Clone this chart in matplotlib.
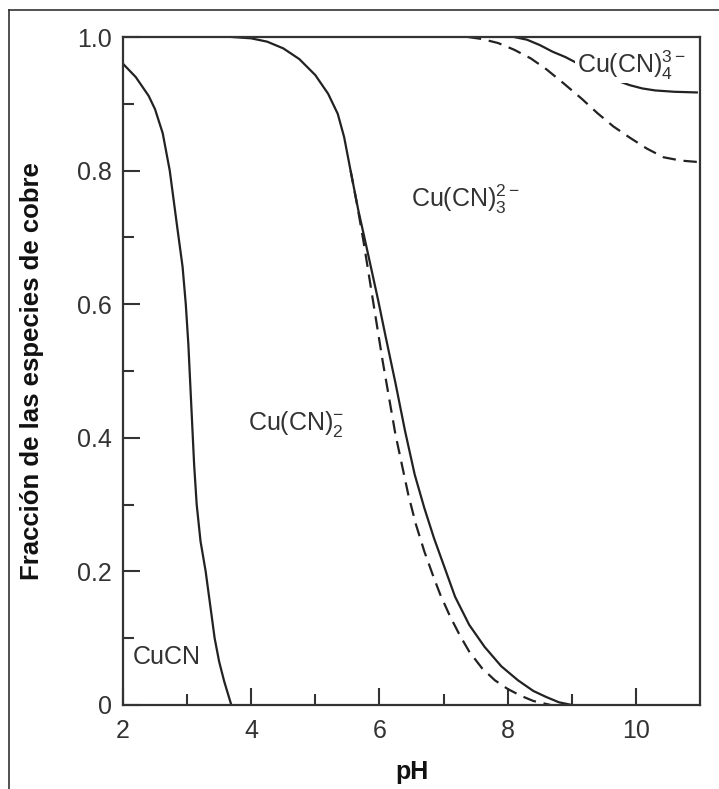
import matplotlib
matplotlib.use("Agg")
import matplotlib.pyplot as plt
from matplotlib.lines import Line2D

plt.rcParams['font.family'] = ['Liberation Sans', 'DejaVu Sans']
plt.rcParams['mathtext.fontset'] = 'custom'
plt.rcParams['mathtext.rm'] = 'Liberation Sans'
plt.rcParams['mathtext.it'] = 'Liberation Sans:italic'
plt.rcParams['mathtext.bf'] = 'Liberation Sans:bold'

# ---- data ----
cucn_ph = [2.0, 2.1, 2.2, 2.3, 2.4, 2.5, 2.62, 2.73, 2.84, 2.93, 2.98, 3.02, 3.05, 3.08,
           3.11, 3.15, 3.21, 3.29, 3.36, 3.43, 3.50, 3.58, 3.69]
cucn_fr = [0.96, 0.95, 0.94, 0.926, 0.912, 0.892, 0.856, 0.80, 0.72, 0.656, 0.60, 0.54,
           0.48, 0.42, 0.36, 0.30, 0.245, 0.20, 0.15, 0.10, 0.065, 0.035, 0.0]

cn2_ph = [3.7, 4.0, 4.25, 4.5, 4.75, 5.0, 5.2, 5.35, 5.45, 5.55, 5.67, 5.8, 5.98, 6.1,
          6.25, 6.4, 6.55, 6.7, 6.85, 7.0, 7.18, 7.4, 7.64, 7.9, 8.16, 8.4, 8.6, 8.8,
          9.0, 9.43]
cn2_fr = [1.0, 0.998, 0.993, 0.983, 0.967, 0.943, 0.915, 0.885, 0.85, 0.80, 0.741, 0.685,
          0.606, 0.55, 0.482, 0.41, 0.345, 0.295, 0.25, 0.21, 0.162, 0.12, 0.087, 0.058,
          0.037, 0.021, 0.012, 0.004, 0.0, -0.003]

cn2d_ph = [5.55, 5.65, 5.75, 5.85, 5.95, 6.05, 6.15, 6.25, 6.35, 6.45, 6.57, 6.7, 6.85,
           6.95, 7.1, 7.25, 7.4, 7.6, 7.8, 8.0, 8.2, 8.4, 8.67]
cn2d_fr = [0.80, 0.75, 0.695, 0.635, 0.575, 0.515, 0.46, 0.405, 0.36, 0.315, 0.27, 0.23,
           0.19, 0.165, 0.133, 0.105, 0.08, 0.055, 0.037, 0.024, 0.014, 0.006, 0.0]

cn3_ph = [8.1, 8.3, 8.5, 8.7, 8.9, 9.1, 9.3, 9.5, 9.7, 9.9, 10.1, 10.3, 10.6, 10.95]
cn3_fr = [1.0, 0.996, 0.988, 0.978, 0.97, 0.96, 0.951, 0.943, 0.935, 0.928, 0.923, 0.92,
          0.918, 0.917]

cn3d_ph = [7.38, 7.6, 7.85, 8.1, 8.36, 8.6, 8.88, 9.15, 9.4, 9.65, 9.91, 10.17, 10.43,
           10.7, 10.95]
cn3d_fr = [1.0, 0.997, 0.991, 0.981, 0.968, 0.952, 0.93, 0.908, 0.886, 0.866, 0.849,
           0.833, 0.82, 0.815, 0.813]

xticks = [2, 4, 6, 8, 10]
yticks = [0, 0.2, 0.4, 0.6, 0.8, 1.0]
yticklabels = ['0', '0.2', '0.4', '0.6', '0.8', '1.0']

labels = [
    (r'$\mathrm{Cu(CN)}_4^{3-}$', 9.93, 0.958),
    (r'$\mathrm{Cu(CN)}_3^{2-}$', 7.35, 0.757),
    (r'$\mathrm{Cu(CN)}_2^{-}$', 4.70, 0.420),
    ('CuCN', 2.15, 0.072),
]

# ---- figure ----
fig = plt.figure(figsize=(7.19, 7.89), dpi=100)
ax = fig.add_axes([0.171, 0.1065, 0.8026, 0.8466])

lc = '#222222'
ax.plot(cucn_ph, cucn_fr, color=lc, lw=1.6, zorder=2)
ax.plot(cn2_ph, cn2_fr, color=lc, lw=1.6, zorder=2)
ax.plot(cn2d_ph, cn2d_fr, color=lc, lw=1.6, ls=(0, (6, 3.5)), zorder=2)
ax.plot(cn3_ph, cn3_fr, color=lc, lw=1.6, zorder=2)
ax.plot(cn3d_ph, cn3d_fr, color=lc, lw=1.6, ls=(0, (6, 3.5)), zorder=2)

for txt, x, y in labels:
    ha = 'left' if txt == 'CuCN' else 'center'
    ax.text(x, y, txt, fontsize=18, color='#333333', ha=ha, va='center',
            bbox=dict(facecolor='white', edgecolor='none', pad=1.0), zorder=3)

ax.set_xlim(2, 11)
ax.set_ylim(0, 1.0)
ax.set_xticks(xticks)
ax.set_xticklabels([str(t) for t in xticks])
ax.set_yticks(yticks)
ax.set_yticklabels(yticklabels)
ax.set_xticks([3, 5, 7, 9], minor=True)
ax.set_yticks([0.1, 0.3, 0.5, 0.7, 0.9], minor=True)

ax.tick_params(axis='both', which='major', direction='in', length=12, width=1.5,
               color='#333333', labelsize=18, labelcolor='#333333')
ax.tick_params(axis='both', which='minor', direction='in', length=8, width=1.5,
               color='#333333')
ax.tick_params(axis='y', which='major', pad=8)
ax.tick_params(axis='x', which='major', pad=10)

for s in ax.spines.values():
    s.set_linewidth(1.6)
    s.set_color('#333333')

ax.set_ylabel('Fracción de las especies de cobre', fontsize=18.5, fontweight='bold',
              color='#111111')
ax.set_xlabel('pH', fontsize=18, fontweight='bold', color='#111111', labelpad=12)
ax.yaxis.set_label_coords(-0.137, 0.5)

# outer frame (left and top edges only visible)
W, H = 719, 789
fig.add_artist(Line2D([9 / W, 9 / W], [0, 1 - 10 / H], color='#333333', lw=1.2,
                      transform=fig.transFigure))
fig.add_artist(Line2D([9 / W, 1], [1 - 10 / H, 1 - 10 / H], color='#333333', lw=1.2,
                      transform=fig.transFigure))

fig.savefig('out.png', dpi=100)
